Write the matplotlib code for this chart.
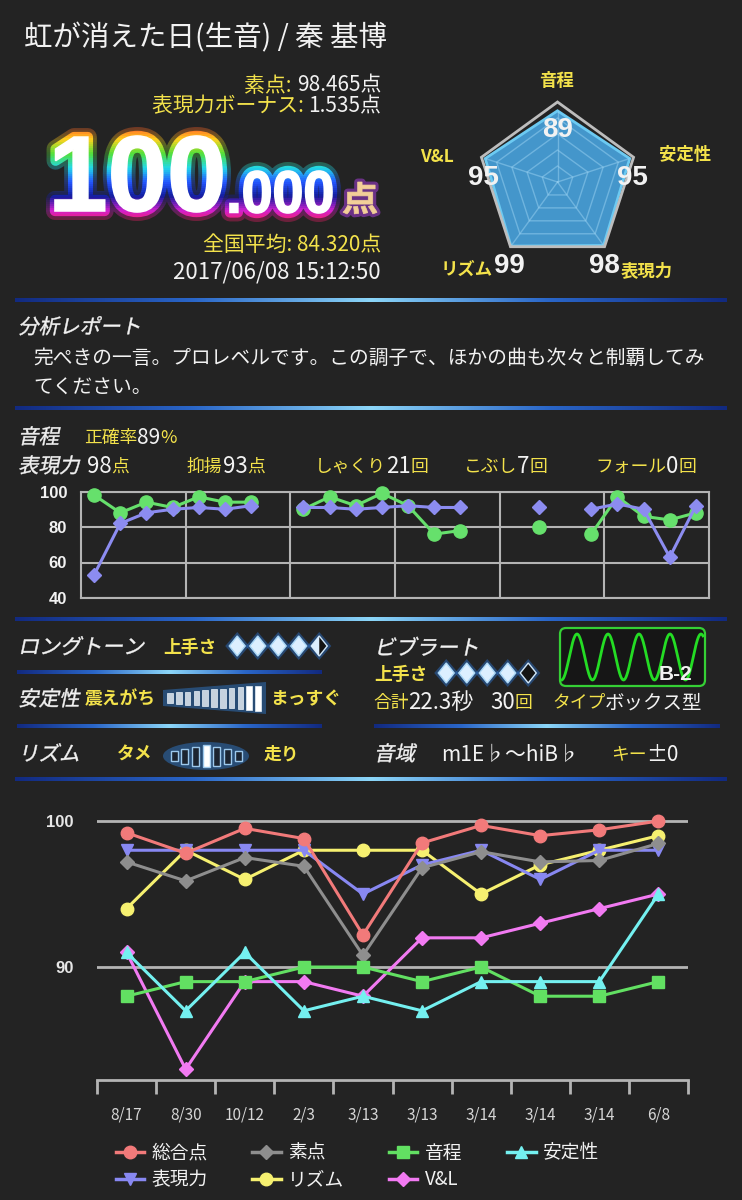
import numpy as np
import matplotlib
matplotlib.use('Agg')
import matplotlib.pyplot as plt
from matplotlib.textpath import TextPath
from matplotlib.font_manager import FontProperties
from matplotlib.patches import PathPatch, Rectangle, Polygon, FancyBboxPatch, Ellipse
from matplotlib.transforms import Affine2D
from matplotlib.colors import LinearSegmentedColormap
from matplotlib.lines import Line2D

JP = 'Noto Sans CJK JP'
plt.rcParams['font.family'] = [JP, 'DejaVu Sans']

W, H = 742, 1200
BG = '#232323'
YEL = '#f3e24b'
WHT = '#f2f2f2'
GRID = '#b4b4b4'

# ---- header ----
song_title = '虹が消えた日(生音) / 秦 基博'
raw_score = '98.465'
bonus_score = '1.535'
total_int = '100'
total_dec = '.000'
national_avg = '84.320'
sung_at = '2017/06/08 15:12:50'

# ---- radar ----
radar_labels = ['音程', '安定性', '表現力', 'リズム', 'V&L']
radar_values = [89, 95, 98, 99, 95]

# ---- 分析レポート ----
report_lines = ['完ぺきの一言。プロレベルです。この調子で、ほかの曲も次々と制覇してみ',
                'てください。']

# ---- 音程 / 表現力 ----
pitch_rate = 89
expr_score = 98
expr_items = [('抑揚', 93, '点'), ('しゃくり', 21, '回'), ('こぶし', 7, '回'), ('フォール', 0, '回')]

# per phrase graph, 24 slots (nan = no phrase)
nan = np.nan
phrase_pitch = [98, 88, 94, 91, 97, 94, 94, nan,
                90, 97, 92, 99, 92, 76, 78, nan,
                nan, 80, nan, 76, 97, 86, 84, 88]
phrase_expr = [53, 82, 88, 90, 91, 90, 92, nan,
               91, 91, 90, 91, 92, 91, 91, nan,
               nan, 91, nan, 90, 93, 90, 63, 92]

# ---- ロングトーン / ビブラート ----
longtone_skill = 4.5
vibrato_skill = 4
vibrato_sec = '22.3'
vibrato_count = 30
vibrato_type = 'ボックス型'
vibrato_code = 'B-2'
vocal_range = 'm1E♭～hiB♭'
key_shift = '±0'

# ---- history ----
dates = ['8/17', '8/30', '10/12', '2/3', '3/13', '3/13', '3/14', '3/14', '3/14', '6/8']
total = [99.2, 97.8, 99.5, 98.8, 92.2, 98.5, 99.7, 99.0, 99.4, 100.0]
raw = [97.2, 95.9, 97.5, 96.9, 90.8, 96.8, 97.9, 97.2, 97.3, 98.465]
pitch = [88, 89, 89, 90, 90, 89, 90, 88, 88, 89]
stability = [91, 87, 91, 87, 88, 87, 89, 89, 89, 95]
expression = [98, 98, 98, 98, 95, 97, 98, 96, 98, 98]
rhythm = [94, 98, 96, 98, 98, 98, 95, 97, 98, 99]
vl = [91, 83, 89, 89, 88, 92, 92, 93, 94, 95]


fig = plt.figure(figsize=(W / 100, H / 100), dpi=100, facecolor=BG)
ax0 = fig.add_axes([0, 0, 1, 1])
ax0.set_xlim(0, W)
ax0.set_ylim(H, 0)
ax0.axis('off')
rend = fig.canvas.get_renderer()


def put(x, cy, s, size, color=WHT, ha='left', weight='normal', family=None):
    kw = {'family': family} if family else {}
    return ax0.text(x, cy + 0.37 * size / 0.72, s, fontsize=size, color=color,
                    ha=ha, va='baseline', weight=weight, **kw)


def put_runs(x, cy, parts, ha='left', gap=0):
    arts, cur = [], x
    for s, c, sz in parts:
        t = put(cur, cy, s, sz, c)
        cur += t.get_window_extent(rend).width + gap
        arts.append(t)
    if ha == 'right':
        for t in arts:
            t.set_x(t.get_position()[0] - (cur - gap - x))
    return cur


def slanted(x, cy, s, size_px, color=WHT):
    tp = TextPath((0, 0), s, size=size_px, prop=FontProperties(family=JP))
    tr = Affine2D().skew_deg(12, 0).scale(1, -1).translate(x, cy + 0.37 * size_px)
    ax0.add_patch(PathPatch(tr.transform_path(tp), fc=color, ec=color, lw=0.3))


sep_cmap = LinearSegmentedColormap.from_list(
    'sep', ['#122a80', '#2a66c8', '#8cd6f8', '#2a66c8', '#122a80'])


def sep(x0, x1, y, h=4):
    grad = np.linspace(0, 1, 256)[None, :]
    ax0.imshow(grad, cmap=sep_cmap, extent=(x0, x1, y + h / 2, y - h / 2),
               aspect='auto', interpolation='bilinear', zorder=2)


def glyph_path(s, family, weight, box):
    tp = TextPath((0, 0), s, size=100, prop=FontProperties(family=family, weight=weight))
    ext = tp.get_extents()
    x0, x1, yt, yb = box
    tr = Affine2D().translate(-ext.x0, -ext.y1).scale((x1 - x0) / ext.width,
                                                      -(yb - yt) / ext.height).translate(x0, yt)
    return tr.transform_path(tp)


# ================= header =================
put(24, 36, song_title, 20.5)
put_runs(381, 84, [('素点: ', YEL, 15), (raw_score + '点', WHT, 15)], ha='right')
put_runs(381, 104.5, [('表現力ボーナス: ', YEL, 15), (bonus_score + '点', WHT, 15)], ha='right')
put(381, 243.5, '全国平均: ' + national_avg + '点', 15, YEL, ha='right')
put(381, 270.5, sung_at, 16, WHT, ha='right')

# rainbow score
p_int = glyph_path(total_int, 'Liberation Sans', 'bold', (55, 222, 136, 212))
p_dec = glyph_path(total_dec, 'Liberation Sans', 'bold', (230, 332, 171, 213))
rain = LinearSegmentedColormap.from_list(
    'rain', ['#ff4a2a', '#ffd21e', '#52e03a', '#22d8e8', '#2456ff', '#121c9c', '#d020d0', '#ff2040'])
y_top, y_bot = 124, 224
for yb in np.arange(y_top, y_bot, 2):
    c = rain((yb - y_top) / (y_bot - y_top))
    clip = Rectangle((0, yb), W, 2, transform=ax0.transData)
    for p in (p_int, p_dec):
        for lw, a in ((13, 0.35), (7.5, 1.0)):
            pp = PathPatch(p, fc='none', ec=c, lw=lw, alpha=a, joinstyle='round')
            ax0.add_patch(pp)
            pp.set_clip_path(clip)
for p in (p_int, p_dec):
    ax0.add_patch(PathPatch(p, fc='white', ec='white', lw=1.2))
p_ten = glyph_path('点', JP, 'bold', (343, 377, 182, 214))
ax0.add_patch(PathPatch(p_ten, fc='none', ec='#9a3cc8', lw=5, alpha=0.6, joinstyle='round'))
ax0.add_patch(PathPatch(p_ten, fc='#f2cf98', ec='#f2cf98', lw=0.5))

# radar
cx, cy, R = 557.5, 182, 80
ang = np.deg2rad(90 - 72 * np.arange(5))


def pent(scale):
    scale = np.broadcast_to(scale, ang.shape)
    return np.column_stack([cx + R * scale * np.cos(ang), cy - R * scale * np.sin(ang)])


data_poly = Polygon(pent(np.array(radar_values) / 100), closed=True,
                    fc='#4496cb', ec='#6ccaf2', lw=2, zorder=3)
ax0.add_patch(data_poly)
for lev in [0.2, 0.4, 0.6, 0.8]:
    g = Polygon(pent(lev), closed=True, fill=False, ec='#9ad2f2', lw=1, alpha=0.5, zorder=4)
    ax0.add_patch(g)
    g.set_clip_path(data_poly)
for px, py in pent(1.0):
    ln, = ax0.plot([cx, px], [cy, py], color='#9ad2f2', lw=1, alpha=0.5, zorder=4)
    ln.set_clip_path(data_poly)
ax0.add_patch(Polygon(pent(1.0), closed=True, fill=False, ec='#bdbdbd', lw=2, zorder=5))

label_pos = [(557, 79.5), (685, 154), (647, 270), (467, 268), (437, 156)]
value_pos = [(558, 126.5), (632, 174.5), (604, 263), (509, 263), (483, 174.5)]
for lab, v, (lx, ly), (vx, vy) in zip(radar_labels, radar_values, label_pos, value_pos):
    put(lx, ly, lab, 12.5, YEL, ha='center', weight='bold')
    put(vx, vy, str(v), 20, WHT, ha='center', weight='bold', family='Liberation Sans')
    ax0.texts[-1].set_zorder(6)

sep(15, 727, 300)

# ================= 分析レポート =================
slanted(18, 326, '分析レポート', 20.5)
put(33, 357, report_lines[0], 14.2)
put(33, 386, report_lines[1], 14.2)
sep(15, 727, 408)

# ================= 音程 / 表現力 =================
slanted(18, 436, '音程', 20.5)
put_runs(84, 436, [('正確率', YEL, 12.8), (str(pitch_rate), WHT, 15), ('%', YEL, 12.8)])
slanted(18, 465, '表現力', 20.5)
put_runs(87, 465, [(str(expr_score), WHT, 16), ('点', YEL, 12.8)])
for (lab, v, unit), x in zip(expr_items, [187, 315, 464, 595]):
    put_runs(x, 465, [(lab, YEL, 12.8), (str(v), WHT, 16), (unit, YEL, 12.8)])

GREEN = '#66e06c'
PURPLE = '#8c8cf0'
axm = fig.add_axes([81 / W, 1 - 598 / H, (709 - 81) / W, (598 - 491.5) / H])
axm.set_facecolor(BG)
slots = np.arange(len(phrase_pitch)) + 0.5
axm.plot(slots, phrase_pitch, '-o', color=GREEN, ms=9.5, lw=2.2, clip_on=False, zorder=3)
axm.plot(slots, phrase_expr, '-D', color=PURPLE, ms=7.5, lw=2.2, clip_on=False, zorder=4)
axm.set_xlim(0, 24)
axm.set_ylim(40, 100)
axm.set_xticks(np.arange(4, 24, 4))
axm.set_xticklabels([])
axm.set_yticks([40, 60, 80, 100])
axm.grid(True, color=GRID, lw=1.5)
axm.tick_params(length=0, labelcolor=WHT, labelsize=12, pad=10)
for lab in axm.get_yticklabels():
    lab.set_fontweight('bold')
    lab.set_family('Liberation Sans')
for s in axm.spines.values():
    s.set_color(GRID)
    s.set_linewidth(1.5)

sep(15, 727, 619)


# ================= ロングトーン etc =================
def diamonds(x0, yc, level, step=20.5):
    for k in range(5):
        xc = x0 + step * k + step / 2
        ax0.add_patch(Polygon([(xc, yc - 14), (xc + 12, yc), (xc, yc + 14), (xc - 12, yc)],
                              fc='#2a6cc0', ec='none', alpha=0.5))
        body = [(xc, yc - 10), (xc + 8, yc), (xc, yc + 10), (xc - 8, yc)]
        f = level - k
        if f >= 1:
            ax0.add_patch(Polygon(body, fc='#dcefff', ec='#a8d6f6', lw=1))
        else:
            ax0.add_patch(Polygon(body, fc='#141414', ec='#cfe6f8', lw=1))
            if f > 0:
                ax0.add_patch(Polygon(body[:1] + body[2:], fc='#dcefff', ec='none'))


slanted(18, 646, 'ロングトーン', 21)
put(163, 646, '上手さ', 12.8, YEL, weight='bold')
diamonds(227, 646, longtone_skill)
sep(17, 322, 672)

slanted(18, 698, '安定性', 20.5)
put(85, 698, '震えがち', 12.8, YEL, weight='bold')
ax0.add_patch(Polygon([(163, 690), (266, 682), (266, 714), (163, 706)], fc='#2d6fb8', ec='none', alpha=0.55))
bar_x = np.linspace(170, 258, 11)
for k, bx in enumerate(bar_x):
    hh = 5 + k * 0.75
    col = '#ffffff' if k >= 9 else '#c6d2de'
    ax0.add_patch(Rectangle((bx - 2.8, 698 - hh), 5.6, 2 * hh, fc=col, ec='#e8f2fa', lw=0.5))
put(270, 698, 'まっすぐ', 12.8, YEL, weight='bold')
sep(17, 322, 726)

slanted(18, 753, 'リズム', 20.5)
put(117, 753, 'タメ', 12.8, YEL, weight='bold')
ax0.add_patch(Ellipse((206, 756), 86, 28, fc='#2d6fb8', ec='none', alpha=0.55))
rb_x = np.linspace(174, 238, 7)
rb_h = [5, 7.5, 9.5, 11, 9.5, 7.5, 5]
for k, (bx, hh) in enumerate(zip(rb_x, rb_h)):
    fc = '#ffffff' if k == 3 else '#1c2430'
    ax0.add_patch(Rectangle((bx - 3.5, 756 - hh), 7, 2 * hh, fc=fc, ec='#9cc8ec', lw=1))
put(264, 753, '走り', 12.8, YEL, weight='bold')

# right column
slanted(374, 647, 'ビブラート', 21)
put(374, 673, '上手さ', 12.8, YEL, weight='bold')
diamonds(436, 673, vibrato_skill)
ax0.add_patch(FancyBboxPatch((560, 628), 145, 58, boxstyle='round,pad=0,rounding_size=6',
                             fc='#161616', ec='#35d035', lw=1.6))
icon_x = np.linspace(562, 703, 400)
ax0.plot(icon_x, 657 + 23 * np.cos(2 * np.pi * (icon_x - 561.5) / 31), color='#24dd24', lw=2)
put(676, 672, vibrato_code, 15, WHT, ha='center', weight='bold', family='Liberation Sans')
put_runs(373, 701, [('合計', YEL, 12.8), (vibrato_sec + '秒', WHT, 16)])
put_runs(490, 701, [(str(vibrato_count), WHT, 16), ('回', YEL, 12.8)])
put_runs(552, 701, [('タイプ', YEL, 12.8), (vibrato_type, WHT, 14)])
sep(374, 720, 726)

slanted(374, 753, '音域', 20.5)
put(441, 753, vocal_range, 15)
put_runs(611, 753, [('キー', YEL, 12.8), (key_shift, WHT, 15)])
sep(15, 727, 779)

# ================= history chart =================
axb = fig.add_axes([97 / W, 1 - 1080 / H, (688 - 97) / W, (1080 - 805) / H])
axb.set_facecolor('none')
xs = np.arange(len(dates))
series = [
    ('総合点', total, '#f27a7a', 'o', 9),
    ('素点', raw, '#8e8e8e', 'D', 7.5),
    ('音程', pitch, '#62e062', 's', 8.5),
    ('安定性', stability, '#74f0f0', '^', 9),
    ('表現力', expression, '#8888f2', 'v', 9),
    ('リズム', rhythm, '#f6f070', 'o', 9),
    ('V&L', vl, '#f27af2', 'D', 7.5),
]
draw_order = ['V&L', 'リズム', '表現力', '素点', '音程', '安定性', '総合点']
handles = {}
for name, vals, col, mk, ms in series:
    z = 3 + draw_order.index(name)
    axb.plot(xs, vals, '-', marker=mk, color=col, ms=ms, lw=2.2, zorder=z, clip_on=False)
    handles[name] = Line2D([], [], color=col, marker=mk, ms=ms, lw=2.5)
axb.set_xlim(-0.5, 9.5)
axb.set_ylim(82.26, 101.1)
axb.set_yticks([90, 100])
axb.yaxis.grid(True, color=GRID, lw=2)
axb.set_xticks(xs)
axb.set_xticklabels(dates)
axb.set_xticks(np.arange(-0.5, 10, 1), minor=True)
axb.tick_params(axis='x', which='major', length=0, pad=19, labelsize=11, labelcolor='#d6d6d6')
axb.tick_params(axis='x', which='minor', length=10, width=2, color=GRID, direction='out')
axb.tick_params(axis='y', length=0, pad=17, labelsize=12, labelcolor='#e6e6e6')
for lab in axb.get_yticklabels():
    lab.set_fontweight('bold')
    lab.set_family('Liberation Sans')
for k in ['top', 'left', 'right']:
    axb.spines[k].set_visible(False)
axb.spines['bottom'].set_color(GRID)
axb.spines['bottom'].set_linewidth(2)

legend_order = ['総合点', '表現力', '素点', 'リズム', '音程', 'V&L', '安定性']
leg = fig.legend([handles[n] for n in legend_order], legend_order, loc='upper left',
                 bbox_to_anchor=(108 / W, 1 - 1135 / H), ncol=4, frameon=False,
                 fontsize=13.5, handlelength=1.5, handletextpad=0.4, columnspacing=2.4,
                 labelspacing=0.3, borderaxespad=0)
for t in leg.get_texts():
    t.set_color(WHT)

fig.savefig('out.png', dpi=100, facecolor=BG)
